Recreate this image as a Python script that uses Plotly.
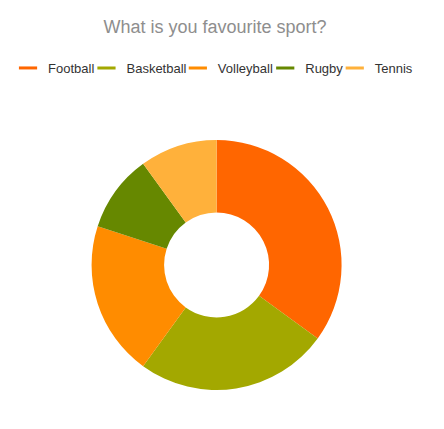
import plotly.graph_objects as go

# survey results (percent)
sports = ["Football", "Basketball", "Volleyball", "Rugby", "Tennis"]
votes = [35, 25, 20, 10, 10]
colors = ["#FF6600", "#A3A800", "#FF8C00", "#668800", "#FFB13B"]

# page has an 8px body margin, so size the figure to fit the window
W, H = 436, 421

fig = go.Figure()

fig.add_trace(go.Pie(
    labels=sports,
    values=votes,
    marker=dict(colors=colors, line=dict(width=0)),
    hole=0.42,
    sort=False,
    direction="clockwise",
    rotation=0,
    textinfo="none",
    hoverinfo="label+percent",
    showlegend=False,
    domain=dict(x=[0, 414 / W], y=[(H - 382) / H, (H - 132) / H]),
))

# one small legend per entry so they pack tightly like the original
text_x = [37, 116, 208, 296, 366]
legend_ids = ["legend", "legend2", "legend3", "legend4", "legend5"]
for name, c, lg in zip(sports, colors, legend_ids):
    fig.add_trace(go.Scatter(
        x=[None], y=[None],
        mode="markers",
        name=name,
        legend=lg,
        marker=dict(symbol="line-ew", size=13, line=dict(color=c, width=3)),
    ))

legend_style = dict(
    orientation="h",
    xanchor="left",
    y=1 - 60 / H, yanchor="middle",
    itemwidth=30,
    bgcolor="rgba(0,0,0,0)",
    font=dict(size=13, color="#333333"),
)

fig.update_layout(
    width=W,
    height=H,
    margin=dict(l=0, r=0, t=0, b=0),
    paper_bgcolor="white",
    plot_bgcolor="white",
    font=dict(family="Liberation Sans, Arial, sans-serif", size=13, color="#333333"),
    title=dict(
        text="What is you favourite sport?",
        x=207 / W, xanchor="center",
        y=1 - 19 / H, yanchor="middle",
        font=dict(size=18, color="#8E8E8E"),
    ),
    xaxis=dict(visible=False),
    yaxis=dict(visible=False),
)
for lg, tx in zip(legend_ids, text_x):
    fig.update_layout({lg: dict(legend_style, x=(tx - 40) / W)})

fig.write_html("out.html")
